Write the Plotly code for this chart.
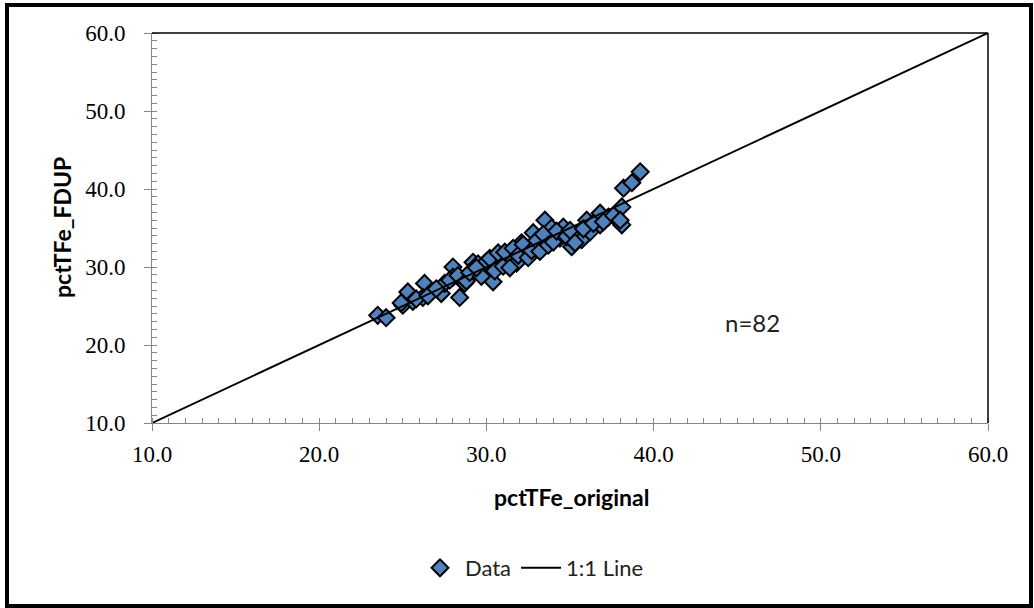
import plotly.graph_objects as go

# Data
orig = [23.5, 24.0, 25.0, 25.3, 25.6, 26.3, 26.2, 26.7, 27.3, 27.5,
        28.0, 28.0, 28.4, 28.7, 29.2, 29.3, 29.9, 30.2, 30.4, 30.6,
        30.8, 31.3, 31.8, 32.1, 32.4, 32.8, 33.0, 33.5, 33.5, 33.9,
        34.4, 34.6, 35.1, 35.5, 35.7, 36.0, 36.2, 36.8, 36.8, 37.3,
        38.1, 38.1, 38.2, 38.7, 39.2, 24.9, 25.8, 26.5, 27.0, 27.8,
        28.3, 28.8, 29.0, 29.5, 29.7, 30.0, 30.2, 30.5, 30.7, 31.0,
        31.1, 31.4, 31.6, 31.9, 32.2, 32.5, 32.7, 33.0, 33.2, 33.4,
        33.7, 34.0, 34.2, 34.8, 35.0, 35.3, 35.8, 36.4, 37.0, 37.6,
        38.0, 29.4]
fdup = [23.8, 23.5, 25.1, 26.8, 25.6, 27.9, 26.1, 26.8, 26.6, 27.9,
        30.0, 28.7, 26.1, 27.9, 30.6, 29.6, 30.0, 29.2, 28.1, 31.5,
        30.3, 31.3, 30.5, 33.1, 31.8, 34.4, 32.6, 33.1, 36.0, 35.0,
        33.7, 35.1, 32.6, 33.7, 33.5, 36.0, 34.5, 35.4, 36.9, 36.4,
        35.4, 37.7, 40.1, 40.8, 42.2, 25.4, 25.9, 26.3, 27.2, 28.3,
        28.9, 28.2, 29.3, 30.4, 28.8, 30.7, 31.1, 29.5, 31.8, 30.1,
        31.9, 29.9, 32.4, 31.5, 32.9, 31.2, 32.1, 33.4, 32.0, 34.2,
        32.8, 33.2, 34.6, 33.9, 34.7, 33.1, 34.9, 35.6, 35.8, 36.6,
        36.0, 29.9]
line_x = [10.0, 60.0]
line_y = [10.0, 60.0]
tick_vals = [10, 20, 30, 40, 50, 60]
tick_text = ["10.0", "20.0", "30.0", "40.0", "50.0", "60.0"]

fig = go.Figure()
fig.add_trace(go.Scatter(
    x=orig, y=fdup, mode="markers", name="Data",
    marker=dict(symbol="diamond", size=13, color="#4F81BD",
                line=dict(color="black", width=2)),
))
fig.add_trace(go.Scatter(
    x=line_x, y=line_y, mode="lines", name="1:1 Line",
    line=dict(color="black", width=2),
))

axis_common = dict(
    range=[10, 60], tickvals=tick_vals, ticktext=tick_text,
    showgrid=False, zeroline=False, showline=True,
    linecolor="#868686", linewidth=1,
    ticks="outside", ticklen=7, tickcolor="#868686", tickwidth=1,
    tickfont=dict(family="Liberation Serif", size=23, color="black"),
    minor=dict(dtick=1, ticks="inside", ticklen=5, tickcolor="#868686", tickwidth=1),
)
fig.update_xaxes(**axis_common, ticklabelstandoff=3)
fig.update_yaxes(**axis_common, ticklabelstandoff=14)

fig.update_layout(
    width=1034, height=608,
    margin=dict(l=152, r=46, t=33, b=185),
    paper_bgcolor="white", plot_bgcolor="white",
    showlegend=True,
    legend=dict(orientation="h", x=(532 - 152) / 836, y=(423 - 568) / 390,
                xanchor="center", yanchor="middle",
                font=dict(family="Lato", size=22, color="#222222"),
                bgcolor="rgba(0,0,0,0)", itemwidth=40),
    shapes=[
        dict(type="line", xref="paper", yref="paper", x0=0, x1=1, y0=1, y1=1,
             line=dict(color="black", width=1.5)),
        dict(type="line", xref="paper", yref="paper", x0=1, x1=1, y0=0, y1=1,
             line=dict(color="black", width=1.5)),
        dict(type="rect", xref="paper", yref="paper",
             x0=(7 - 152) / 836, x1=(1031 - 152) / 836,
             y0=(423 - 606) / 390, y1=(423 - 5) / 390,
             line=dict(color="black", width=4)),
    ],
    annotations=[
        dict(text="<b>pctTFe_original</b>", xref="paper", yref="paper",
             x=(571 - 152) / 836, y=(423 - 497) / 390, xanchor="center", yanchor="middle",
             showarrow=False, font=dict(family="Lato", size=23, color="black")),
        dict(text="<b>pctTFe_FDUP</b>", xref="paper", yref="paper",
             x=(62 - 152) / 836, y=(423 - 228) / 390, xanchor="center", yanchor="middle",
             textangle=-90, showarrow=False, font=dict(family="Lato", size=23, color="black")),
        dict(text="n=82", xref="paper", yref="paper",
             x=(752 - 152) / 836, y=(423 - 322) / 390, xanchor="center", yanchor="middle",
             showarrow=False, font=dict(family="Lato", size=24, color="#222222")),
    ],
)

fig.write_html("out.html")
